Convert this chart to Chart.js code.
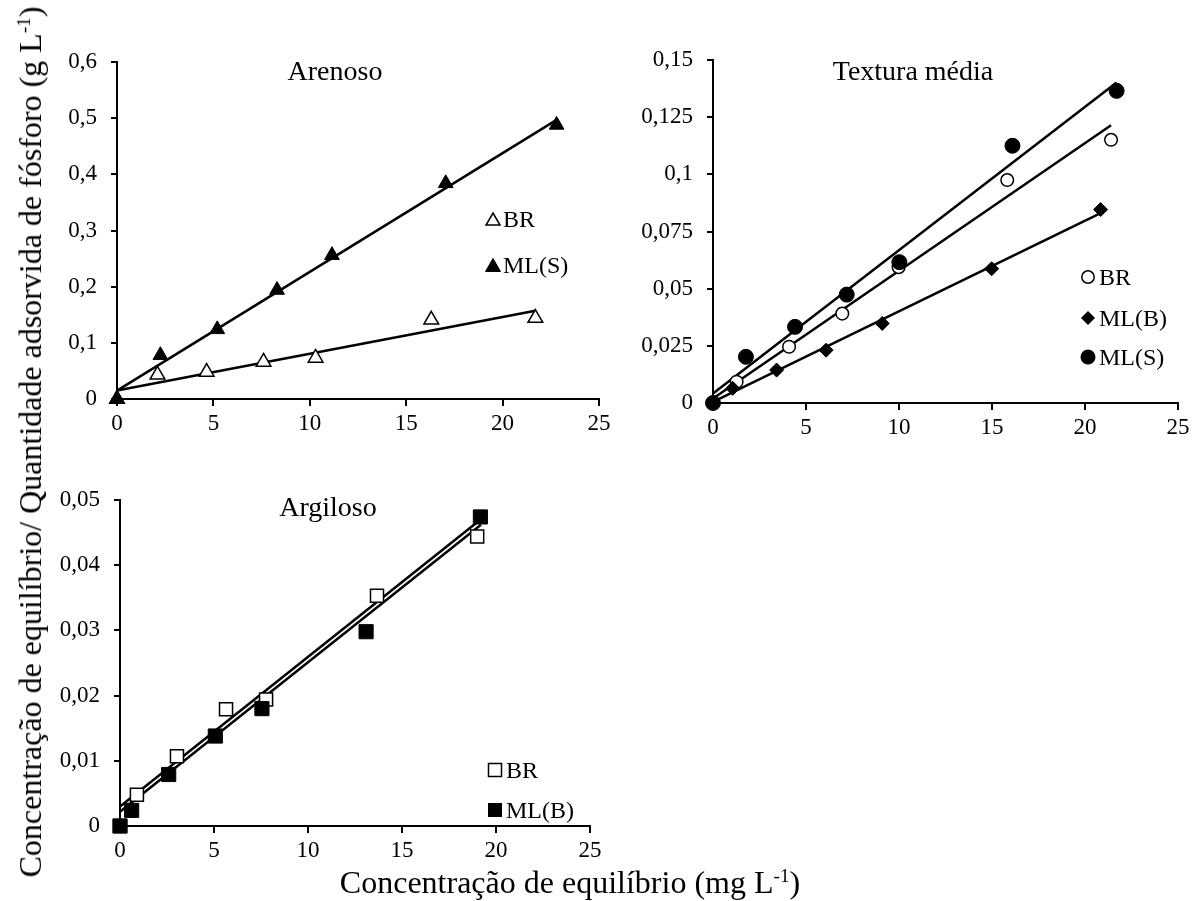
<!DOCTYPE html>
<html>
<head>
<meta charset="utf-8">
<script src="https://cdn.jsdelivr.net/npm/chart.js@4.4.0/dist/chart.umd.min.js"></script>
<style>
html,body{margin:0;padding:0;background:#fff;}
body{width:1200px;height:901px;position:relative;overflow:hidden;font-family:"Liberation Serif","Times New Roman",serif;color:#000;}
canvas{position:absolute;}
.t{position:absolute;white-space:nowrap;line-height:1;z-index:2;}
.sup{font-size:0.6em;position:relative;top:-0.55em;vertical-align:baseline;line-height:0;}
.leg{position:absolute;font-size:24px;line-height:24px;height:24px;white-space:nowrap;display:flex;align-items:center;z-index:2;}
.leg svg{display:block;margin-right:2px;}
</style>
</head>
<body>
<canvas id="c1"></canvas>
<canvas id="c2"></canvas>
<canvas id="c3"></canvas>

<div class="t" id="ytitle" style="font-size:32px;left:30px;top:442px;transform:translate(-50%,-50%) rotate(-90deg);">Concentração de equilíbrio/ Quantidade adsorvida de fósforo (g L<span class="sup">-1</span>)</div>
<div class="t" id="xtitle" style="font-size:32px;left:570px;top:866px;transform:translateX(-50%);">Concentração de equilíbrio (mg L<span class="sup">-1</span>)</div>

<div class="t" style="font-size:28px;left:335px;top:57px;transform:translateX(-50%);">Arenoso</div>
<div class="t" style="font-size:28px;left:913px;top:57px;transform:translateX(-50%);">Textura média</div>
<div class="t" style="font-size:28px;left:328px;top:493px;transform:translateX(-50%);">Argiloso</div>

<!-- legends -->
<div class="leg" style="left:485px;top:207px;"><svg width="16" height="16"><polygon points="8,2 15,14 1,14" fill="#fff" stroke="#000" stroke-width="1.5"/></svg><span>BR</span></div>
<div class="leg" style="left:485px;top:253px;"><svg width="16" height="16"><polygon points="8,1.5 15.5,14.5 0.5,14.5" fill="#000" stroke="#000" stroke-width="1"/></svg><span>ML(S)</span></div>

<div class="leg" style="left:1080px;top:265px;"><svg width="17" height="16"><circle cx="8" cy="8" r="6.2" fill="#fff" stroke="#000" stroke-width="1.5"/></svg><span>BR</span></div>
<div class="leg" style="left:1080px;top:306px;"><svg width="17" height="16"><polygon points="8,1 15,8 8,15 1,8" fill="#000"/></svg><span>ML(B)</span></div>
<div class="leg" style="left:1080px;top:345px;"><svg width="17" height="16"><circle cx="8" cy="8" r="7.5" fill="#000"/></svg><span>ML(S)</span></div>

<div class="leg" style="left:487px;top:758px;"><svg width="17" height="16"><rect x="1.5" y="1.5" width="13" height="13" fill="#fff" stroke="#000" stroke-width="1.5"/></svg><span>BR</span></div>
<div class="leg" style="left:487px;top:798px;"><svg width="17" height="16"><rect x="1" y="1" width="14" height="14" fill="#000"/></svg><span>ML(B)</span></div>

<script>
// ---------- shared x axis ----------
const xTicks = [0, 5, 10, 15, 20, 25];
const xTickLabels = ['0', '5', '10', '15', '20', '25'];

// ---------- Arenoso ----------
const arenYTicks = [0, 0.1, 0.2, 0.3, 0.4, 0.5, 0.6];
const arenYTickLabels = ['0', '0,1', '0,2', '0,3', '0,4', '0,5', '0,6'];
const arenBRx = [0, 2.1, 4.65, 7.6, 10.3, 16.3, 21.7];
const arenBRy = [0, 0.043, 0.048, 0.066, 0.073, 0.141, 0.144];
const arenMLSx = [0, 2.25, 5.2, 8.3, 11.15, 17.05, 22.8];
const arenMLSy = [0, 0.078, 0.124, 0.194, 0.256, 0.384, 0.488];
const arenBRfitX = [0, 21.7];
const arenBRfitY = [0.015, 0.157];
const arenMLSfitX = [0, 22.8];
const arenMLSfitY = [0.015, 0.497];

// ---------- Textura média ----------
const tmYTicks = [0, 0.025, 0.05, 0.075, 0.1, 0.125, 0.15];
const tmYTickLabels = ['0', '0,025', '0,05', '0,075', '0,1', '0,125', '0,15'];
const tmBRx = [0, 1.27, 4.09, 6.95, 9.98, 15.82, 21.4];
const tmBRy = [0, 0.0093, 0.0246, 0.0391, 0.0594, 0.0975, 0.1151];
const tmMLBx = [0, 1.06, 3.42, 6.08, 9.1, 14.98, 20.84];
const tmMLBy = [0, 0.0064, 0.0144, 0.0231, 0.0348, 0.0587, 0.0846];
const tmMLSx = [0, 1.77, 4.41, 7.19, 10.02, 16.1, 21.7];
const tmMLSy = [0, 0.0202, 0.0333, 0.0474, 0.0616, 0.1125, 0.1365];
const tmBRfitX = [0, 21.4];
const tmBRfitY = [0.002, 0.1215];
const tmMLBfitX = [0, 20.84];
const tmMLBfitY = [0.0005, 0.083];
const tmMLSfitX = [0, 21.7];
const tmMLSfitY = [0.0042, 0.1402];

// ---------- Argiloso ----------
const argYTicks = [0, 0.01, 0.02, 0.03, 0.04, 0.05];
const argYTickLabels = ['0', '0,01', '0,02', '0,03', '0,04', '0,05'];
const argBRx = [0, 0.9, 3.03, 5.64, 7.77, 13.67, 19.0];
const argBRy = [0, 0.0048, 0.0107, 0.0179, 0.0194, 0.0353, 0.0444];
const argMLBx = [0, 0.62, 2.59, 5.07, 7.55, 13.09, 19.17];
const argMLBy = [0, 0.0024, 0.0079, 0.0138, 0.018, 0.0298, 0.0474];
const argBRfitX = [0, 19.0];
const argBRfitY = [0.003, 0.0466];
const argMLBfitX = [0, 19.2];
const argMLBfitY = [0.0022, 0.0462];

function pts(xs, ys) { return xs.map((x, i) => ({ x: x, y: ys[i] })); }

function markers(xs, ys, style, radius, filled, order) {
  return {
    data: pts(xs, ys), showLine: false, pointStyle: style, pointRadius: radius, pointHoverRadius: radius,
    pointBackgroundColor: filled ? '#000' : '#fff', pointBorderColor: '#000',
    pointBorderWidth: filled ? 1 : 1.5, order: order, clip: false
  };
}
function fit(xs, ys) {
  return { data: pts(xs, ys), showLine: true, borderColor: '#000', borderWidth: 2.5,
    pointRadius: 0, pointHoverRadius: 0, order: 5, clip: false, tension: 0 };
}

const tickFont = { family: 'Liberation Serif', size: 23 };

function panel(id, box, area, yMax, yTicks, yLabels, datasets) {
  const cv = document.getElementById(id);
  cv.width = box.w; cv.height = box.h;
  cv.style.left = box.x + 'px'; cv.style.top = box.y + 'px';
  cv.style.width = box.w + 'px'; cv.style.height = box.h + 'px';
  new Chart(cv, {
    type: 'scatter',
    data: { datasets: datasets },
    options: {
      responsive: false, animation: false, devicePixelRatio: 1, events: [],
      layout: { padding: { left: 0, top: area.top - box.y, right: box.x + box.w - area.right, bottom: 0 } },
      plugins: { legend: { display: false }, tooltip: { enabled: false }, title: { display: false } },
      scales: {
        x: {
          type: 'linear', position: 'bottom', min: 0, max: 25,
          afterBuildTicks: s => { s.ticks = xTicks.map(v => ({ value: v })); },
          afterFit: s => { s.height = box.y + box.h - area.bottom; },
          ticks: { callback: (v, i) => xTickLabels[i], font: tickFont, color: '#000', padding: 4,
            maxRotation: 0, minRotation: 0, autoSkip: false },
          grid: { drawOnChartArea: false, drawTicks: true, tickLength: 7, color: '#000', lineWidth: 2 },
          border: { display: true, color: '#000', width: 2 }
        },
        y: {
          type: 'linear', position: 'left', min: 0, max: yMax,
          afterBuildTicks: s => { s.ticks = yTicks.map(v => ({ value: v })); },
          afterFit: s => { s.width = area.left - box.x; },
          ticks: { callback: (v, i) => yLabels[i], font: tickFont, color: '#000', padding: 14, autoSkip: false },
          grid: { drawOnChartArea: false, drawTicks: true, tickLength: 6, color: '#000', lineWidth: 2 },
          border: { display: true, color: '#000', width: 2 }
        }
      }
    }
  });
}

panel('c1', { x: 0, y: 0, w: 640, h: 450 }, { left: 117, right: 599, top: 62, bottom: 399 },
  0.6, arenYTicks, arenYTickLabels, [
    markers(arenMLSx, arenMLSy, 'triangle', 8.5, true, 1),
    markers(arenBRx, arenBRy, 'triangle', 8.5, false, 2),
    fit(arenBRfitX, arenBRfitY),
    fit(arenMLSfitX, arenMLSfitY)
  ]);

panel('c2', { x: 600, y: 0, w: 600, h: 460 }, { left: 713, right: 1178, top: 60, bottom: 403 },
  0.15, tmYTicks, tmYTickLabels, [
    markers(tmMLSx, tmMLSy, 'circle', 7.5, true, 1),
    markers(tmMLBx, tmMLBy, 'rectRot', 7, true, 2),
    markers(tmBRx, tmBRy, 'circle', 6.3, false, 3),
    fit(tmBRfitX, tmBRfitY),
    fit(tmMLBfitX, tmMLBfitY),
    fit(tmMLSfitX, tmMLSfitY)
  ]);

panel('c3', { x: 0, y: 440, w: 640, h: 440 }, { left: 120, right: 590, top: 500, bottom: 826 },
  0.05, argYTicks, argYTickLabels, [
    markers(argMLBx, argMLBy, 'rect', 10, true, 1),
    markers(argBRx, argBRy, 'rect', 9.2, false, 2),
    fit(argBRfitX, argBRfitY),
    fit(argMLBfitX, argMLBfitY)
  ]);
</script>
</body>
</html>
